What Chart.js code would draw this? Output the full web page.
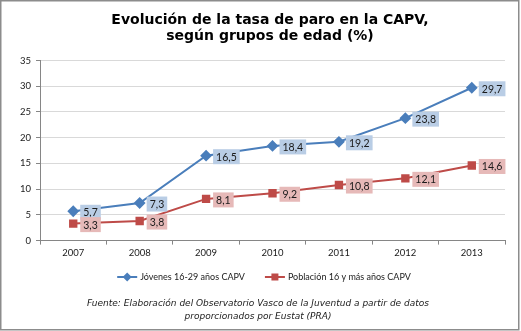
<!DOCTYPE html>
<html>
<head>
<meta charset="utf-8">
<script src="https://cdn.jsdelivr.net/npm/chart.js@4/dist/chart.umd.min.js"></script>
<style>
  html, body { margin: 0; padding: 0; background: #fff; }
  #wrap { width: 521px; height: 331px; position: relative; }
</style>
</head>
<body>
<div id="wrap"><canvas id="c" width="521" height="331"></canvas></div>
<script>
// Years on the horizontal axis
const years = ['2007', '2008', '2009', '2010', '2011', '2012', '2013'];
// Unemployment rate (%), young people 16-29
const jovenes = [5.7, 7.3, 16.5, 18.4, 19.2, 23.8, 29.7];
// Unemployment rate (%), population 16 and over
const poblacion = [3.3, 3.8, 8.1, 9.2, 10.8, 12.1, 14.6];
// Vertical axis ticks
const yTicks = [0, 5, 10, 15, 20, 25, 30, 35];

const titleLines = ['Evolución de la tasa de paro en la CAPV,', 'según grupos de edad (%)'];
const seriesNames = ['Jóvenes 16-29 años CAPV', 'Población 16 y más años CAPV'];
const sourceLines = ['Fuente: Elaboración del Observatorio Vasco de la Juventud a partir de datos',
                     'proporcionados por Eustat (PRA)'];

const BLUE = '#4a7ebb', RED = '#be4b48';
const BLUE_BOX = '#b9cde5', RED_BOX = '#e6b9b8';
const LABEL_FONT = 'Lato, "Liberation Sans", sans-serif';
const TEXT = '#1a1a1a';

// Series marker, shared by the legend
function marker(ctx, shape, color, x, y) {
  ctx.fillStyle = color;
  if (shape === 'diamond') {
    ctx.beginPath();
    ctx.moveTo(x, y - 4.5); ctx.lineTo(x + 4.5, y); ctx.lineTo(x, y + 4.5); ctx.lineTo(x - 4.5, y);
    ctx.closePath(); ctx.fill();
  } else {
    ctx.fillRect(x - 3.5, y - 3.5, 7, 7);
  }
}

// Value labels in tinted boxes to the right of each point
const valueLabels = {
  id: 'valueLabels',
  afterDatasetsDraw(chart) {
    const ctx = chart.ctx;
    ctx.save();
    ctx.font = '10.5px ' + LABEL_FONT;
    ctx.textBaseline = 'middle';
    chart.data.datasets.forEach((ds, i) => {
      const meta = chart.getDatasetMeta(i);
      meta.data.forEach((pt, j) => {
        const txt = ds.data[j].toFixed(1).replace('.', ',');
        const w = ctx.measureText(txt).width + 6;
        const h = 15;
        const x = pt.x + 7, y = pt.y + 1;
        ctx.fillStyle = ds.labelBox;
        ctx.fillRect(x, y - h / 2, w, h);
        ctx.fillStyle = TEXT;
        ctx.fillText(txt, x + 3, y + 0.5);
      });
    });
    ctx.restore();
  }
};

// Title, legend, source note and frame around the figure
const frame = {
  id: 'frame',
  beforeDraw(chart) {
    const ctx = chart.ctx;
    ctx.save();
    ctx.fillStyle = '#fff';
    ctx.fillRect(0, 0, chart.width, chart.height);
    ctx.restore();
  },
  afterDraw(chart) {
    const ctx = chart.ctx;
    ctx.save();

    // title
    ctx.fillStyle = '#000';
    ctx.font = 'bold 14px "DejaVu Sans", Verdana, sans-serif';
    ctx.textAlign = 'center';
    ctx.textBaseline = 'alphabetic';
    ctx.fillText(titleLines[0], 270, 24);
    ctx.fillText(titleLines[1], 270, 39.5);

    // legend: line + marker swatch, then the series name
    ctx.font = '9px ' + LABEL_FONT;
    ctx.textAlign = 'left';
    ctx.textBaseline = 'middle';
    const gap = 20, sw = 20, txtGap = 3;
    const items = chart.data.datasets.map(ds => ({ ds, w: sw + txtGap + ctx.measureText(ds.label).width }));
    const total = items.reduce((s, it) => s + it.w, 0) + gap * (items.length - 1);
    let x = 264 - total / 2;
    const ly = 277;
    items.forEach(it => {
      ctx.strokeStyle = it.ds.borderColor;
      ctx.lineWidth = 2;
      ctx.beginPath(); ctx.moveTo(x, ly); ctx.lineTo(x + sw, ly); ctx.stroke();
      marker(ctx, it.ds.marker, it.ds.borderColor, x + sw / 2, ly);
      ctx.fillStyle = TEXT;
      ctx.fillText(it.ds.label, x + sw + txtGap, ly + 0.5);
      x += it.w + gap;
    });

    // source
    ctx.fillStyle = TEXT;
    ctx.font = 'italic 9px "DejaVu Sans", Verdana, sans-serif';
    ctx.textAlign = 'center';
    ctx.fillText(sourceLines[0], 258, 304);
    ctx.fillText(sourceLines[1], 258, 317);

    // frame
    ctx.strokeStyle = '#8c8c8c';
    ctx.lineWidth = 1.5;
    ctx.strokeRect(0.75, 0.75, 518, 329);
    ctx.restore();
  }
};

new Chart(document.getElementById('c'), {
  type: 'line',
  data: {
    labels: years,
    datasets: [
      { label: seriesNames[0], data: jovenes, borderColor: BLUE, backgroundColor: BLUE,
        borderWidth: 2, pointStyle: 'rectRot', pointRadius: 4.5, pointHoverRadius: 4.5,
        labelBox: BLUE_BOX, marker: 'diamond', tension: 0 },
      { label: seriesNames[1], data: poblacion, borderColor: RED, backgroundColor: RED,
        borderWidth: 2, pointStyle: 'rect', pointRadius: 4.5, pointHoverRadius: 4.5,
        labelBox: RED_BOX, marker: 'square', tension: 0 }
    ]
  },
  options: {
    responsive: false,
    animation: false,
    events: [],
    layout: { padding: { left: 15, right: 16, top: 60.5, bottom: 69 } },
    plugins: {
      title: { display: false },
      legend: { display: false },
      tooltip: { enabled: false }
    },
    scales: {
      x: {
        offset: true,
        grid: { display: true, drawOnChartArea: false, offset: true, tickLength: 4, color: '#868686' },
        border: { color: '#868686' },
        ticks: { color: TEXT, font: { family: LABEL_FONT, size: 9.5 }, padding: 3 }
      },
      y: {
        min: 0, max: 35,
        afterBuildTicks(axis) { axis.ticks = yTicks.map(v => ({ value: v })); },
        grid: { color: '#d9d9d9', tickLength: 4, tickColor: '#868686' },
        border: { color: '#868686' },
        ticks: { color: TEXT, font: { family: LABEL_FONT, size: 9.5 }, padding: 5 }
      }
    }
  },
  plugins: [valueLabels, frame]
});
</script>
</body>
</html>
